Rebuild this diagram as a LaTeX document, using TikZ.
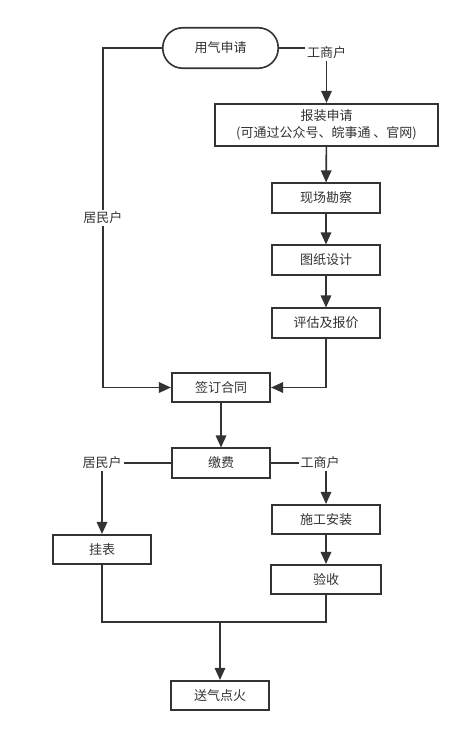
\documentclass[tikz,border=0pt]{standalone}
\usepackage{fontspec}
\newfontfamily\cjk{Noto Sans CJK SC}
\usepackage{tikz}
\usetikzlibrary{arrows.meta, positioning}
\definecolor{linecolor}{RGB}{51, 51, 51}

\begin{document}
\begin{tikzpicture}[x=1pt, y=-1pt,
    box/.style={draw=linecolor, line width=1.6pt, fill=white, minimum width=108.5pt, minimum height=29.5pt, inner sep=2pt, align=center, text=linecolor, font=\cjk\fontsize{13}{16.5}\selectfont},
    lbl/.style={fill=white, inner sep=2pt, text=linecolor, font=\cjk\fontsize{13}{16.5}\selectfont},
    plain/.style={draw=linecolor, line width=1.6pt},
    flow/.style={plain, -{Triangle[length=12pt, width=10.5pt]}}]
    % Page
    \fill[white] (0, 0) rectangle (467, 743);
    \useasboundingbox (0, 0) rectangle (467, 743);

    % Start
    \node[box, rounded corners=20pt, minimum width=115.5pt, minimum height=40.5pt] (apply) at (220.5, 48) {用气申请};

    % Business branch
    \node[box, minimum width=223.5pt, minimum height=42.5pt] (report) at (326.5, 125) {报装申请\\(可通过公众号、皖事通 、官网)};
    \node[box] (survey) at (326, 198) {现场勘察};
    \node[box] (design) at (326, 260) {图纸设计};
    \node[box] (quote) at (326, 323) {评估及报价};

    % Contract and payment
    \node[box, minimum width=98.5pt] (contract) at (221, 387.5) {签订合同};
    \node[box, minimum width=98.5pt] (pay) at (221, 463) {缴费};

    % After payment
    \node[box, minimum width=98.5pt] (meter) at (102, 549.5) {挂表};
    \node[box] (install) at (326, 519.5) {施工安装};
    \node[box, minimum width=110.5pt] (accept) at (326, 579.5) {验收};
    \node[box, minimum width=98.5pt] (fire) at (220, 695.5) {送气点火};
    \coordinate (join) at (220, 622);

    % Connectors
    \draw[flow] (apply.east) -| node[lbl, yshift=-5pt] {工商户} (report.north);
    \draw[flow] (apply.west) -- ++(-59, 0) |- node[lbl, pos=0.25] {居民户} (contract.west);
    \draw[flow] (report) -- (survey);
    \draw[flow] (survey) -- (design);
    \draw[flow] (design) -- (quote);
    \draw[flow] (quote.south) |- (contract.east);
    \draw[flow] (contract) -- (pay);
    \draw[flow] (pay.west) -| node[lbl] {居民户} (meter.north);
    \draw[flow] (pay.east) -| node[lbl, xshift=-6pt] {工商户} (install.north);
    \draw[flow] (install) -- (accept);
    \draw[plain] (meter.south) |- (join) -| (accept.south);
    \draw[flow] (join) -- (fire.north);

\end{tikzpicture}
\end{document}
